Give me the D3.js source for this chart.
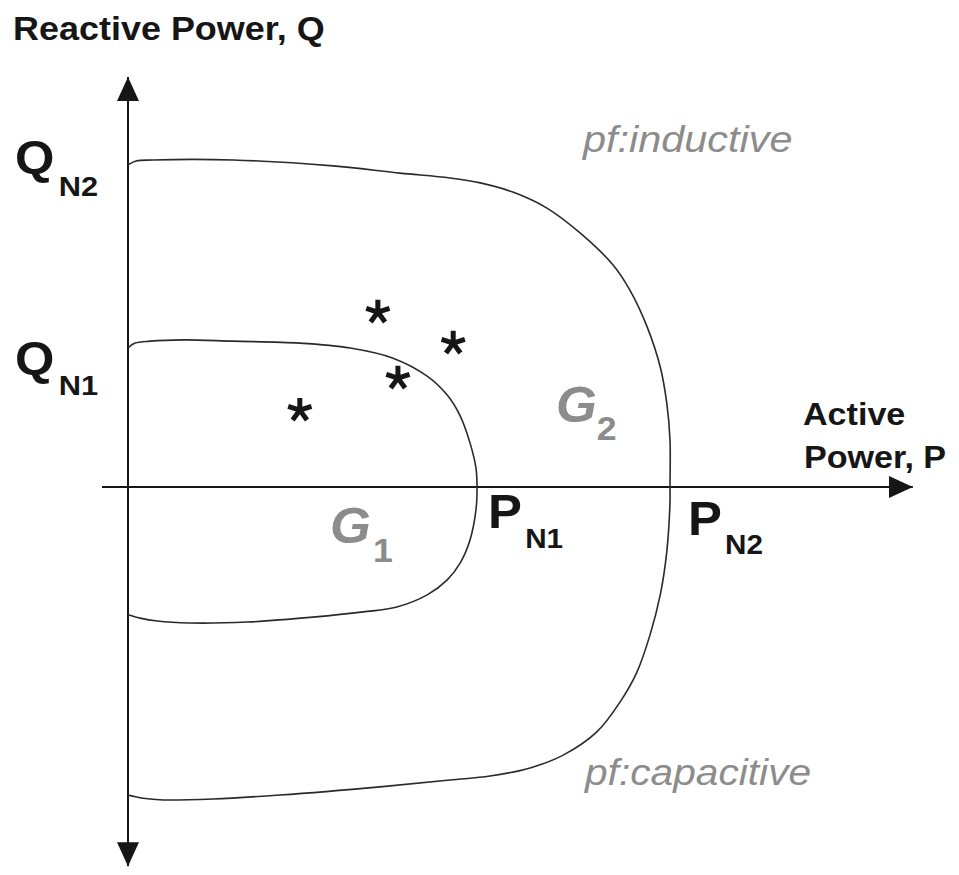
<!DOCTYPE html>
<html>
<head>
<meta charset="utf-8">
<script src="https://cdn.jsdelivr.net/npm/d3@7"></script>
<style>
  html, body { margin: 0; padding: 0; background: #fff; }
  svg { display: block; }
  text { font-family: "Liberation Sans", Arial, Helvetica, sans-serif; }
</style>
</head>
<body>
<script>
// Operating region of a generator in the P-Q plane.
// Units: percent of the larger unit's rating (P_N2 = 100, Q_N2 = 100).

// Capability boundary of the larger unit G2 (P, Q), traced clockwise from the top of the Q axis
const boundaryG2P = [0, 1.5, 4.6, 19.4, 37.8, 50.2, 59.4, 65.0, 71.0, 77.3, 83.4, 89.5, 92.6, 95.8, 98.2, 99.4, 100, 100,
  100, 99.4, 98.2, 96.3, 93.9, 90.8, 86.5, 80.3, 74.2, 66.8, 59.4, 46.5, 28.0, 15.7, 6.5, 2.8, 0];
const boundaryG2Q = [98.5, 99.7, 100, 100, 98.2, 96.0, 94.5, 93.0, 90.2, 85.3, 77.7, 67.9, 60.2, 48.9, 36.7, 25.7, 14.4, 0,
  -4.6, -19.9, -33.0, -45.3, -56.6, -65.7, -74.9, -82.0, -85.9, -88.4, -89.6, -91.7, -94.2, -95.4, -95.7, -95.2, -94.2];

// Capability boundary of the smaller unit G1 (P, Q)
const boundaryG1P = [0, 1.3, 4.1, 10.1, 19.4, 31.7, 41.0, 48.9, 55.2, 58.9, 61.3, 63.1, 64.2, 64.4,
  64.2, 63.1, 61.3, 58.9, 55.2, 49.6, 43.4, 34.1, 22.0, 11.4, 5.4, 2.2, 0];
const boundaryG1Q = [42.5, 44.0, 44.6, 45.0, 44.6, 44.0, 42.5, 39.4, 33.9, 28.1, 21.7, 13.5, 5.8, 0,
  -7.0, -16.2, -23.2, -28.4, -33.0, -36.7, -38.2, -39.8, -41.3, -41.6, -41.0, -40.1, -39.1];

// Operating points (P, Q)
const pointP = [46.1, 60.0, 49.8, 31.7];
const pointQ = [53.5, 44.0, 33.3, 23.5];

// Rated values marked on the axes
const ratedP = { N1: 64.4, N2: 100 };
const ratedQ = { N1: 45.0, N2: 100 };

// Axis extents (data units)
const axisP = [-4.8, 144.8];
const axisQ = [-116, 125.4];

const W = 959, H = 875;
const x = d3.scaleLinear().domain([0, 100]).range([128, 670]);
const y = d3.scaleLinear().domain([0, 100]).range([487, 160]);

const svg = d3.select("body").append("svg").attr("width", W).attr("height", H);

const ink = "#161616";
const grey = "#8c8c8c";

// arrow heads
const defs = svg.append("defs");
defs.append("marker")
  .attr("id", "arrow")
  .attr("viewBox", "0 0 24 22")
  .attr("refX", 24).attr("refY", 11)
  .attr("markerWidth", 24).attr("markerHeight", 22)
  .attr("markerUnits", "userSpaceOnUse")
  .attr("orient", "auto-start-reverse")
  .append("path").attr("d", "M0,0 L24,11 L0,22 Z").attr("fill", ink);

// axes
svg.append("line")
  .attr("x1", x(axisP[0])).attr("x2", x(axisP[1]))
  .attr("y1", y(0)).attr("y2", y(0))
  .attr("stroke", ink).attr("stroke-width", 2)
  .attr("marker-end", "url(#arrow)");
svg.append("line")
  .attr("x1", x(0)).attr("x2", x(0))
  .attr("y1", y(axisQ[0])).attr("y2", y(axisQ[1]))
  .attr("stroke", ink).attr("stroke-width", 2)
  .attr("marker-start", "url(#arrow)")
  .attr("marker-end", "url(#arrow)");

// capability boundaries
const line = d3.line().x(d => x(d[0])).y(d => y(d[1])).curve(d3.curveCatmullRom.alpha(0.5));
const g2 = d3.zip(boundaryG2P, boundaryG2Q);
const g1 = d3.zip(boundaryG1P, boundaryG1Q);
[g2, g1].forEach(pts => {
  svg.append("path").datum(pts)
    .attr("d", line)
    .attr("fill", "none").attr("stroke", "#2a2a2a").attr("stroke-width", 1.6);
});

// five-armed asterisk symbol for operating points
const asterisk5 = {
  draw(ctx, size) {
    const r = Math.sqrt(size);
    for (let i = 0; i < 5; i++) {
      const a = -Math.PI / 2 + i * 2 * Math.PI / 5;
      ctx.moveTo(0, 0);
      ctx.lineTo(r * Math.cos(a), r * Math.sin(a));
    }
  }
};
svg.append("g").selectAll("path")
  .data(d3.zip(pointP, pointQ))
  .join("path")
  .attr("transform", d => `translate(${x(d[0])},${y(d[1])})`)
  .attr("d", d3.symbol().type(asterisk5).size(150))
  .attr("fill", "none").attr("stroke", ink).attr("stroke-width", 5)
  .attr("stroke-linecap", "butt");

// text helper with a slight horizontal stretch
function label(px, py, parts, sx) {
  const t = svg.append("text")
    .attr("transform", `translate(${px},${py}) scale(${sx || 1.1},1)`);
  parts.forEach(p => {
    const s = t.append("tspan").text(p.text)
      .attr("font-size", p.size)
      .attr("font-weight", p.weight || "bold")
      .attr("font-style", p.style || "normal")
      .attr("fill", p.fill || ink);
    if (p.dx != null) s.attr("dx", p.dx);
    if (p.dy != null) s.attr("dy", p.dy);
  });
  return t;
}

label(13, 40, [{ text: "Reactive Power, Q", size: 33 }], 1.09);
label(803, 425, [{ text: "Active", size: 31 }], 1.1);
label(804, 468, [{ text: "Power, P", size: 31 }], 1.1);

label(15, y(ratedQ.N2) + 13, [{ text: "Q", size: 46 }, { text: "N2", size: 28, dx: 4, dy: 23 }]);
label(15, y(ratedQ.N1) + 34, [{ text: "Q", size: 46 }, { text: "N1", size: 28, dx: 4, dy: 21 }]);
label(x(ratedP.N1) + 11, 528, [{ text: "P", size: 48 }, { text: "N1", size: 28, dx: 3, dy: 20 }], 1.06);
label(x(ratedP.N2) + 18, 535, [{ text: "P", size: 48 }, { text: "N2", size: 28, dx: 3, dy: 19 }], 1.06);

label(330, 543, [{ text: "G", size: 50, style: "italic", fill: grey }, { text: "1", size: 34, fill: grey, dx: 2, dy: 19 }], 1.05);
label(556, 422, [{ text: "G", size: 50, style: "italic", fill: grey }, { text: "2", size: 34, fill: grey, dx: 0, dy: 18 }], 1.05);

label(583, 152, [{ text: "pf:inductive", size: 37, weight: "normal", style: "italic", fill: grey }], 1.12);
label(585, 785, [{ text: "pf:capacitive", size: 36, weight: "normal", style: "italic", fill: grey }], 1.13);
</script>
</body>
</html>
